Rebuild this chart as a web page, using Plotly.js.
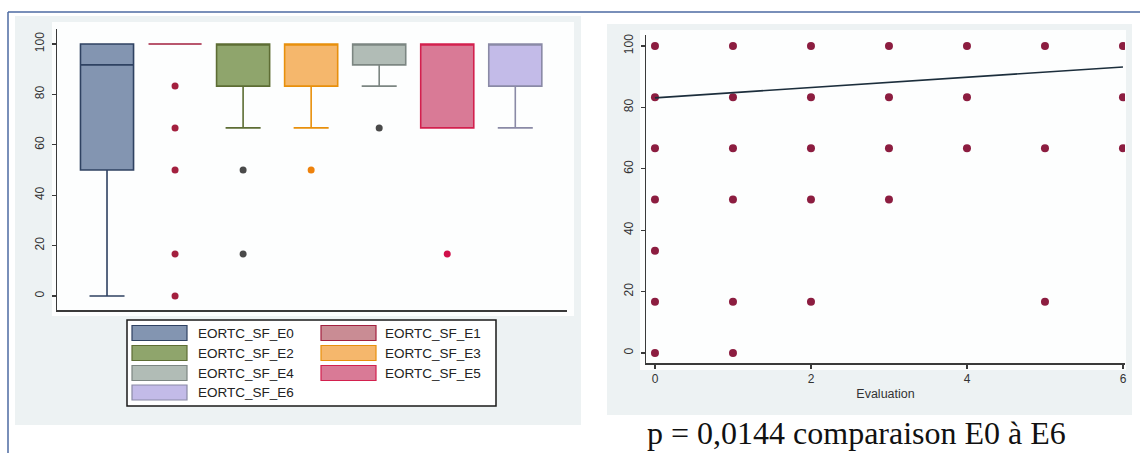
<!DOCTYPE html>
<html>
<head>
<meta charset="utf-8">
<script src="https://cdn.plot.ly/plotly-3.0.1.min.js"></script>
<style>
  html, body { margin: 0; padding: 0; background: #ffffff; }
  #chart { width: 1140px; height: 453px; }
</style>
</head>
<body>
<div id="chart"></div>
<script>
// EORTC social functioning score by evaluation (E0 to E6)
const categories   = ['EORTC_SF_E0', 'EORTC_SF_E1', 'EORTC_SF_E2', 'EORTC_SF_E3', 'EORTC_SF_E4', 'EORTC_SF_E5', 'EORTC_SF_E6'];
const q1           = [50,   100, 83.3, 83.3, 91.7, 66.7, 83.3];
const median       = [91.7, 100, 100,  100,  100,  100,  100];
const q3           = [100,  100, 100,  100,  100,  100,  100];
const lowerWhisker = [0,    100, 66.7, 66.7, 83.3, 66.7, 66.7];
const upperWhisker = [100,  100, 100,  100,  100,  100,  100];
const outliers     = [[], [83.3, 66.7, 50, 16.7, 0], [50, 16.7], [50], [66.7], [16.7], []];

// Individual scores per evaluation (scatter panel)
const evaluation = [0, 0, 0, 0, 0, 0, 0,
                    1, 1, 1, 1, 1, 1,
                    2, 2, 2, 2, 2,
                    3, 3, 3, 3,
                    4, 4, 4,
                    5, 5, 5,
                    6, 6, 6];
const score      = [100, 83.3, 66.7, 50, 33.3, 16.7, 0,
                    100, 83.3, 66.7, 50, 16.7, 0,
                    100, 83.3, 66.7, 50, 16.7,
                    100, 83.3, 66.7, 50,
                    100, 83.3, 66.7,
                    100, 66.7, 16.7,
                    100, 83.3, 66.7];

// Linear fit of score on evaluation
const fitIntercept = 83.1;
const fitSlope = 1.68;
const fitX = [0, 6];

const yTicks = [0, 20, 40, 60, 80, 100];
const xTicks = [0, 2, 4, 6];
const pText = 'p = 0,0144 comparaison E0 à E6';
const xTitle = 'Evaluation';

// Styling
const fillColors    = ['#8395b1', '#c98c94', '#8fa56c', '#f5b76c', '#b1bcb6', '#d97a96', '#c3bbe8'];
const lineColors    = ['#2f4262', '#a3203f', '#5d6d34', '#e8900c', '#7c8682', '#d3204e', '#8a8aa6'];
const outlierColors = ['#2f4262', '#a3203f', '#4a4a4a', '#ee820c', '#4a4a4a', '#d0104a', '#8a8aa6'];

const W = 1140, H = 453;
const px = v => v / W;
const py = v => 1 - v / H;

const traces = [];
categories.forEach((name, i) => {
  traces.push({
    type: 'box', name: name,
    x: [i], q1: [q1[i]], median: [median[i]], q3: [q3[i]],
    lowerfence: [lowerWhisker[i]], upperfence: [upperWhisker[i]],
    boxpoints: false, width: 0.78, whiskerwidth: 0.66,
    fillcolor: fillColors[i],
    line: { color: lineColors[i], width: 1.6 },
    xaxis: 'x', yaxis: 'y', showlegend: false, hoverinfo: 'skip'
  });
  if (outliers[i].length) {
    traces.push({
      type: 'scatter', mode: 'markers',
      x: outliers[i].map(() => i), y: outliers[i],
      marker: { color: outlierColors[i], size: 7 },
      xaxis: 'x', yaxis: 'y', showlegend: false, hoverinfo: 'skip'
    });
  }
});

traces.push({
  type: 'scatter', mode: 'markers',
  x: evaluation, y: score,
  marker: { color: '#8c1d40', size: 8 },
  xaxis: 'x2', yaxis: 'y2', showlegend: false, hoverinfo: 'skip'
});
traces.push({
  type: 'scatter', mode: 'lines',
  x: fitX, y: fitX.map(v => fitIntercept + fitSlope * v),
  line: { color: '#1c2e3c', width: 1.6 },
  xaxis: 'x2', yaxis: 'y2', showlegend: false, hoverinfo: 'skip'
});

const tickFont = { family: 'Liberation Sans, Arial, sans-serif', size: 12, color: '#333333' };
const axisLine = { showline: true, linecolor: '#3a3a3a', linewidth: 1.5, showgrid: false, zeroline: false, fixedrange: true };

// Background panels, border lines and the hand-built legend
const shapes = [
  { type: 'rect', xref: 'paper', yref: 'paper', x0: px(15), x1: px(581), y0: py(425), y1: py(16),
    fillcolor: '#edf2f3', line: { width: 0 }, layer: 'below' },
  { type: 'rect', xref: 'paper', yref: 'paper', x0: px(607), x1: px(1132), y0: py(415), y1: py(24),
    fillcolor: '#edf2f3', line: { width: 0 }, layer: 'below' },
  { type: 'rect', xref: 'paper', yref: 'paper', x0: px(52), x1: px(574), y0: py(316), y1: py(22),
    fillcolor: '#fdfefe', line: { width: 0 }, layer: 'below' },
  { type: 'rect', xref: 'paper', yref: 'paper', x0: px(640), x1: px(1126), y0: py(370), y1: py(30),
    fillcolor: '#fdfefe', line: { width: 0 }, layer: 'below' },
  { type: 'line', xref: 'paper', yref: 'paper', x0: px(8), x1: 1, y0: py(12), y1: py(12),
    line: { color: '#4c6aa2', width: 1.5 } },
  { type: 'line', xref: 'paper', yref: 'paper', x0: px(8), x1: px(8), y0: py(12), y1: 0,
    line: { color: '#4c6aa2', width: 1.5 } },
  { type: 'rect', xref: 'paper', yref: 'paper', x0: px(127), x1: px(496), y0: py(406), y1: py(320),
    fillcolor: '#ffffff', line: { color: '#1a1a1a', width: 1.5 } }
];

const annotations = [
  { xref: 'paper', yref: 'paper', x: px(856), y: py(433), xanchor: 'center', yanchor: 'middle',
    text: pText, showarrow: false,
    font: { family: 'Liberation Serif, Times New Roman, serif', size: 32, color: '#111111' } }
];

const legendCols = [{ sw: 132, tx: 196 }, { sw: 321, tx: 383 }];
const legendRows = [333, 353, 373, 392.5];
categories.forEach((name, i) => {
  const col = legendCols[i % 2];
  const rowY = legendRows[Math.floor(i / 2)];
  shapes.push({
    type: 'rect', xref: 'paper', yref: 'paper',
    x0: px(col.sw), x1: px(col.sw + 55), y0: py(rowY + 7.5), y1: py(rowY - 7.5),
    fillcolor: fillColors[i], line: { color: lineColors[i], width: 1.2 }
  });
  annotations.push({
    xref: 'paper', yref: 'paper', x: px(col.tx), y: py(rowY), xanchor: 'left', yanchor: 'middle',
    text: name, showarrow: false,
    font: { family: 'Liberation Sans, Arial, sans-serif', size: 13.5, color: '#222222' }
  });
});

const layout = {
  width: W, height: H,
  margin: { l: 0, r: 0, t: 0, b: 0, pad: 0 },
  paper_bgcolor: '#ffffff',
  plot_bgcolor: 'rgba(0,0,0,0)',
  showlegend: false,
  xaxis: Object.assign({}, axisLine, {
    domain: [px(57), px(567)], range: [-0.735, 6.76],
    showticklabels: false, ticks: '', anchor: 'y'
  }),
  yaxis: Object.assign({}, axisLine, {
    domain: [py(310), py(29)], range: [-5.556, 105.95],
    tickvals: yTicks, ticktext: yTicks.map(String),
    ticks: 'outside', ticklen: 4, tickwidth: 1.3, tickcolor: '#3a3a3a',
    tickangle: -90, tickfont: tickFont, ticklabelstandoff: 3, anchor: 'x'
  }),
  xaxis2: Object.assign({}, axisLine, {
    domain: [px(646), px(1125)], range: [-0.115, 6.026],
    tickvals: xTicks, ticktext: xTicks.map(String),
    ticks: 'outside', ticklen: 4, tickwidth: 1.3, tickcolor: '#3a3a3a',
    tickfont: tickFont, anchor: 'y2',
    title: { text: xTitle, standoff: 4, font: { family: 'Liberation Sans, Arial, sans-serif', size: 12.5, color: '#333333' } }
  }),
  yaxis2: Object.assign({}, axisLine, {
    domain: [py(363), py(35)], range: [-3.257, 103.58],
    tickvals: yTicks, ticktext: yTicks.map(String),
    ticks: 'outside', ticklen: 4, tickwidth: 1.3, tickcolor: '#3a3a3a',
    tickangle: -90, tickfont: tickFont, ticklabelstandoff: 3, anchor: 'x2'
  }),
  shapes: shapes,
  annotations: annotations
};

Plotly.newPlot('chart', traces, layout, { staticPlot: true, displayModeBar: false });
</script>
</body>
</html>
